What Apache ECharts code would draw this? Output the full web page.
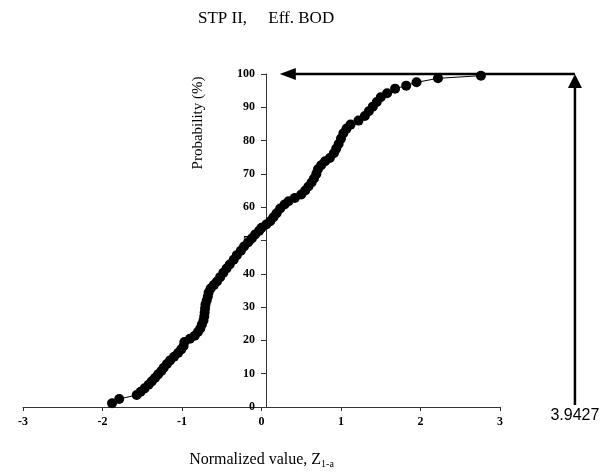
<!DOCTYPE html>
<html>
<head>
<meta charset="utf-8">
<script src="https://cdn.jsdelivr.net/npm/echarts/dist/echarts.min.js"></script>
<style>
html, body { margin: 0; padding: 0; background: #fff; }
#chart { width: 601px; height: 474px; }
</style>
</head>
<body>
<div id="chart"></div>
<script>
// normalized value Z and cumulative probability (%)
var zValues = [-1.88, -1.79, -1.57, -1.52, -1.47, -1.42, -1.38, -1.34, -1.30, -1.26,
  -1.23, -1.19, -1.15, -1.10, -1.05, -1.01, -0.98, -0.97, -0.90, -0.84,
  -0.80, -0.77, -0.75, -0.73, -0.72, -0.715, -0.71, -0.705, -0.69, -0.675,
  -0.665, -0.64, -0.60, -0.56, -0.52, -0.48, -0.44, -0.40, -0.35, -0.31,
  -0.26, -0.22, -0.17, -0.12, -0.08, -0.03, 0.00, 0.06, 0.11, 0.15,
  0.19, 0.235, 0.29, 0.34, 0.42, 0.50, 0.55, 0.59, 0.63, 0.66,
  0.69, 0.71, 0.75, 0.80, 0.86, 0.91, 0.94, 0.97, 1.00, 1.03,
  1.07, 1.12, 1.22, 1.30, 1.35, 1.40, 1.45, 1.50, 1.58, 1.68,
  1.82, 1.95, 2.22, 2.76];
var probValues = [1.1, 2.4, 3.6, 4.6, 5.6, 6.7, 7.7, 8.7, 9.8, 10.8,
  11.8, 12.9, 14.0, 15.1, 16.2, 17.3, 18.3, 19.5, 20.5, 21.4,
  22.5, 23.6, 24.8, 26.0, 27.2, 28.4, 29.6, 30.8, 32.0, 33.2,
  34.4, 35.6, 36.6, 37.7, 39.0, 40.3, 41.6, 42.8, 44.2, 45.6,
  46.9, 48.2, 49.4, 50.7, 51.8, 52.9, 53.8, 54.8, 55.8, 57.0,
  58.2, 59.6, 60.8, 61.8, 62.8, 63.8, 65.0, 66.2, 67.4, 68.6,
  70.0, 71.4, 72.6, 73.8, 74.8, 76.2, 77.6, 79.0, 80.6, 82.2,
  83.6, 84.8, 86.0, 87.4, 88.8, 90.2, 91.6, 93.0, 94.2, 95.6,
  96.5, 97.5, 98.7, 99.5];

// annotation: value at 100% and where the arrow points back to
var arrowX = 3.9427;
var arrowTipX = 0.23;
var arrowTop = 100;
var arrowLabel = '3.9427';

var serif = '"Liberation Serif", "Times New Roman", serif';
var gridLeft = 23;

var chart = echarts.init(document.getElementById('chart'));

var points = [];
for (var i = 0; i < zValues.length; i++) {
  points.push([zValues[i], probValues[i]]);
}

chart.setOption({
  animation: false,
  title: {
    text: 'STP II,     Eff. BOD',
    left: 193,
    top: 5,
    textStyle: { fontFamily: serif, fontSize: 17, fontWeight: 'normal', color: '#000' }
  },
  grid: { left: gridLeft, right: 101, top: 74, bottom: 63, containLabel: false },
  xAxis: {
    type: 'value',
    min: -3,
    max: 3,
    interval: 1,
    name: 'Normalized value, Z{sub|1-a}',
    nameLocation: 'middle',
    nameGap: 44,
    nameTextStyle: {
      fontFamily: serif, fontSize: 16, color: '#000',
      rich: { sub: { fontFamily: serif, fontSize: 10, color: '#000', padding: [8, 0, 0, 0] } }
    },
    axisLine: { onZero: false, lineStyle: { color: '#333', width: 1 } },
    axisTick: { show: true, length: 4, lineStyle: { color: '#333' } },
    axisLabel: { margin: 9, fontFamily: serif, fontSize: 12, fontWeight: 'bold', color: '#000' },
    splitLine: { show: false }
  },
  yAxis: {
    type: 'value',
    min: 0,
    max: 100,
    interval: 10,
    axisLine: { show: true, onZero: false, lineStyle: { color: '#333', width: 1 } },
    axisTick: { show: true, length: 5, lineStyle: { color: '#333' } },
    axisLabel: { margin: 11, fontFamily: serif, fontSize: 12, fontWeight: 'bold', color: '#000' },
    splitLine: { show: false }
  },
  series: [{
    type: 'line',
    data: points,
    symbol: 'circle',
    symbolSize: 10,
    clip: false,
    itemStyle: { color: '#000' },
    lineStyle: { color: '#000', width: 1 }
  }]
});

// move the y axis (line, ticks and labels) onto x = 0
var zeroX = chart.convertToPixel({ xAxisIndex: 0 }, 0);
chart.setOption({ yAxis: { offset: -(zeroX - gridLeft) } });

// arrows placed through the chart's own scale
var base = chart.convertToPixel({ gridIndex: 0 }, [arrowX, 0]);
var top1 = chart.convertToPixel({ gridIndex: 0 }, [arrowX, arrowTop]);
var tip = chart.convertToPixel({ gridIndex: 0 }, [arrowTipX, arrowTop]);

chart.setOption({
  graphic: [
    {
      type: 'line',
      shape: { x1: base[0], y1: base[1] - 2, x2: top1[0], y2: top1[1] + 12 },
      style: { stroke: '#000', lineWidth: 2.5 }
    },
    {
      type: 'polygon',
      shape: { points: [[top1[0], top1[1]], [top1[0] - 7, top1[1] + 14], [top1[0] + 7, top1[1] + 14]] },
      style: { fill: '#000' }
    },
    {
      type: 'line',
      shape: { x1: top1[0], y1: top1[1], x2: tip[0] + 14, y2: tip[1] },
      style: { stroke: '#000', lineWidth: 2.5 }
    },
    {
      type: 'polygon',
      shape: { points: [[tip[0], tip[1]], [tip[0] + 16, tip[1] - 6], [tip[0] + 16, tip[1] + 6]] },
      style: { fill: '#000' }
    },
    {
      type: 'text',
      x: base[0],
      y: base[1] + 1,
      style: {
        text: arrowLabel, fill: '#000', align: 'center', verticalAlign: 'top',
        font: '16px "Liberation Sans", Arial, sans-serif'
      }
    },
    {
      type: 'text',
      x: 198,
      y: 123,
      rotation: Math.PI / 2,
      style: {
        text: 'Probability (%)', fill: '#000', align: 'center', verticalAlign: 'middle',
        font: '15px "Liberation Serif", "Times New Roman", serif'
      }
    }
  ]
});
</script>
</body>
</html>
